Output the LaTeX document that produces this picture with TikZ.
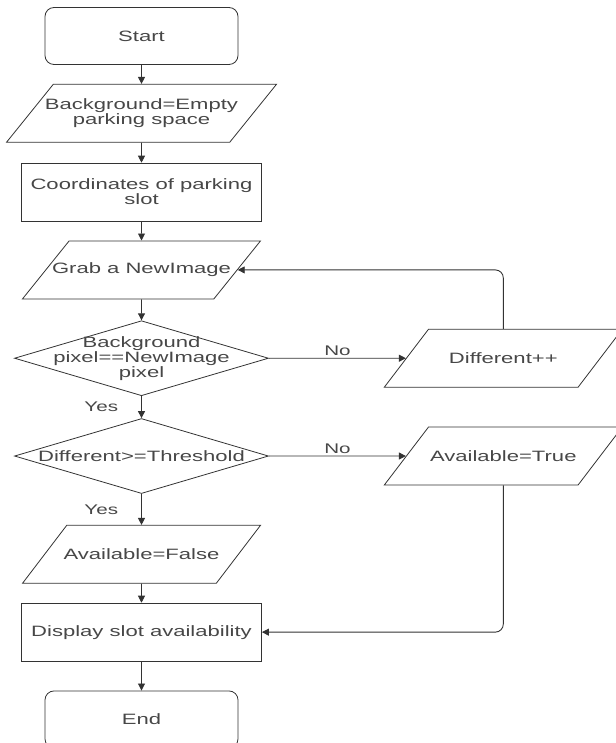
\documentclass[tikz,border=0pt]{standalone}
\usepackage{fontspec}
\setmainfont{Liberation Sans}[FakeStretch=1.47]
\usetikzlibrary{positioning, arrows.meta, shapes.geometric}

\begin{document}
\begin{tikzpicture}[
    x=1pt, y=1pt,
    node distance = 19pt and 137pt,
    every node/.style = {font=\fontsize{15}{15}\selectfont, text=black!72},
    base/.style = {draw=black!80, line width=0.8pt, align=center},
    term/.style = {base, rectangle, rounded corners=9pt, minimum width=193pt, minimum height=57pt},
    proc/.style = {base, rectangle, minimum width=240pt, minimum height=58pt},
    io/.style = {base, trapezium, trapezium left angle=51, trapezium right angle=129,
        trapezium stretches body, minimum width=238pt, minimum height=58pt,
        inner xsep=-20pt, inner ysep=21.8pt},
    decision/.style = {base, diamond, aspect=3.39, minimum width=254pt, minimum height=75pt,
        inner xsep=0pt, inner ysep=-12pt},
    arrow/.style = {draw=black!80, line width=0.9pt, -{Triangle[length=7pt, width=7pt]}},
    lbl/.style = {font=\fontsize{14}{14}\selectfont, inner sep=1pt}
]
    \useasboundingbox (0,0) rectangle (615,-743);

    \node[term] (start) at (141.5,-36) {Start};
    \node[io, minimum width=270pt, inner ysep=14.4pt, below=of start] (bg) {Background=Empty\\parking space};
    \node[proc, below=20pt of bg] (coord) {Coordinates of parking\\slot};
    \node[io, below=of coord] (grab) {Grab a NewImage};
    \node[decision, below=21pt of grab] (cmp) {Background\\pixel==NewImage\\pixel};
    \node[decision, below=22pt of cmp] (thr) {Different>=Threshold};
    \node[io, below=31pt of thr] (avfalse) {Available=False};
    \node[proc, below=of avfalse] (disp) {Display slot availability};
    \node[term, below=29pt of disp] (stop) {End};

    \node[io, right=of cmp] (diff) {Different++};
    \node[io, right=of thr] (avtrue) {Available=True};

    \draw[arrow] (start) -- (bg);
    \draw[arrow] (bg) -- (coord);
    \draw[arrow] (coord) -- (grab);
    \draw[arrow] (grab) -- (cmp);
    \draw[arrow] (cmp) -- node[lbl, left=22pt] {Yes} (thr);
    \draw[arrow] (thr) -- node[lbl, left=22pt] {Yes} (avfalse);
    \draw[arrow] (avfalse) -- (disp);
    \draw[arrow] (disp) -- (stop);

    \draw[arrow] (cmp) -- node[lbl, above=1pt] {No} (diff);
    \draw[arrow] (thr) -- node[lbl, above=1pt] {No} (avtrue);
    \draw[arrow, rounded corners=8pt] (diff.north) |- (grab.east);
    \draw[arrow, rounded corners=8pt] (avtrue.south) |- (disp.east);
\end{tikzpicture}
\end{document}
